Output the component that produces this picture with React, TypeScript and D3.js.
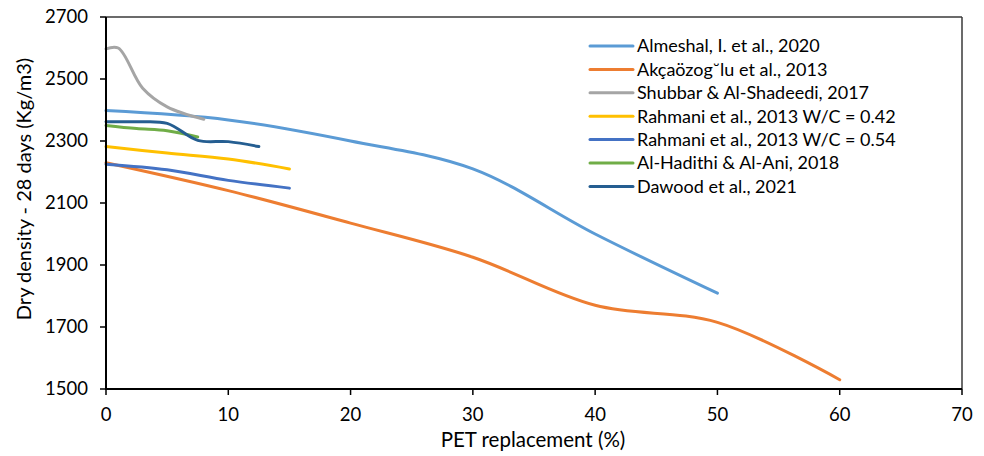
import React from "react";
import * as d3 from "d3";

const seriesNames = [
  "Almeshal, I. et al., 2020",
  "Akçaözog˘lu et al., 2013",
  "Shubbar & Al-Shadeedi, 2017",
  "Rahmani et al., 2013 W/C = 0.42",
  "Rahmani et al., 2013 W/C = 0.54",
  "Al-Hadithi & Al-Ani, 2018",
  "Dawood et al., 2021",
];
const seriesColors = ["#5B9BD5", "#ED7D31", "#A5A5A5", "#FFC000", "#4472C4", "#70AD47", "#255E91"];

const almeshalX = [0, 10, 20, 30, 40, 50];
const almeshalY = [2398, 2368, 2300, 2210, 2000, 1809];
const akcaX = [0, 10, 20, 30, 40, 50, 60];
const akcaY = [2230, 2140, 2035, 1925, 1770, 1715, 1530];
const shubbarX = [0, 1, 3, 5, 8];
const shubbarY = [2597, 2600, 2470, 2410, 2370];
const rahmani42X = [0, 5, 10, 15];
const rahmani42Y = [2282, 2261, 2242, 2210];
const rahmani54X = [0, 5, 10, 15];
const rahmani54Y = [2225, 2207, 2173, 2148];
const hadithiX = [0, 2.5, 5, 7.5];
const hadithiY = [2350, 2340, 2333, 2313];
const dawoodX = [0, 2.5, 5, 7.5, 10, 12.5];
const dawoodY = [2362, 2362, 2357, 2302, 2298, 2282];

const xTicks = [0, 10, 20, 30, 40, 50, 60, 70];
const yTicks = [1500, 1700, 1900, 2100, 2300, 2500, 2700];

const allX = [almeshalX, akcaX, shubbarX, rahmani42X, rahmani54X, hadithiX, dawoodX];
const allY = [almeshalY, akcaY, shubbarY, rahmani42Y, rahmani54Y, hadithiY, dawoodY];

const FONT = "Lato, 'Open Sans', sans-serif";

export default function App() {
  const x = d3.scaleLinear().domain([0, 70]).range([106, 962]);
  const y = d3.scaleLinear().domain([1500, 2700]).range([389, 17]);
  const line = d3
    .line<[number, number]>()
    .x((d) => x(d[0]))
    .y((d) => y(d[1]))
    .curve(d3.curveCatmullRom.alpha(0.5));

  const legendX1 = 590;
  const legendX2 = 633;
  const legendY0 = 46;
  const legendStep = 23.4;

  return (
    <svg
      width={984}
      height={456}
      style={{ position: "absolute", left: 0, top: 0, display: "block", background: "#fff" }}
    >
      <rect x={0} y={0} width={984} height={456} fill="#fff" />
      {/* plot border top/right */}
      <line x1={x(0)} x2={x(70)} y1={y(2700)} y2={y(2700)} stroke="#3a3a3a" strokeWidth={1.5} />
      <line x1={x(70)} x2={x(70)} y1={y(2700)} y2={y(1500)} stroke="#3a3a3a" strokeWidth={1.5} />
      {/* series */}
      {allX.map((xs, i) => {
        const pts: [number, number][] = xs.map((v, j) => [v, allY[i][j]]);
        return (
          <path
            key={i}
            d={line(pts) || ""}
            fill="none"
            stroke={seriesColors[i]}
            strokeWidth={3}
            strokeLinecap="round"
          />
        );
      })}
      {/* axes */}
      <line x1={x(0)} x2={x(0)} y1={y(2700)} y2={y(1500) + 1} stroke="#000" strokeWidth={2} />
      <line x1={x(0) - 1} x2={x(70)} y1={y(1500)} y2={y(1500)} stroke="#000" strokeWidth={2} />
      {yTicks.map((t) => (
        <g key={"y" + t}>
          <line x1={x(0) - 6} x2={x(0)} y1={y(t)} y2={y(t)} stroke="#000" strokeWidth={1.5} />
          <text
            x={88}
            y={y(t)}
            dy="0.35em"
            textAnchor="end"
            fontFamily={FONT}
            fontSize={18.5}
            fill="#000"
          >
            {t}
          </text>
        </g>
      ))}
      {xTicks.map((t) => (
        <g key={"x" + t}>
          <line x1={x(t)} x2={x(t)} y1={y(1500)} y2={y(1500) + 6} stroke="#000" strokeWidth={1.5} />
          <text x={x(t)} y={421} textAnchor="middle" fontFamily={FONT} fontSize={18.5} fill="#000">
            {t}
          </text>
        </g>
      ))}
      <text x={533} y={447} textAnchor="middle" fontFamily={FONT} fontSize={20.5} fill="#000">
        PET replacement (%)
      </text>
      <text
        transform={`translate(31, 189) rotate(-90)`}
        textAnchor="middle"
        fontFamily={FONT}
        fontSize={20}
        fill="#000"
      >
        Dry density - 28 days (Kg/m3)
      </text>
      {/* legend */}
      {seriesNames.map((n, i) => (
        <g key={"l" + i}>
          <line
            x1={legendX1}
            x2={legendX2}
            y1={legendY0 + i * legendStep}
            y2={legendY0 + i * legendStep}
            stroke={seriesColors[i]}
            strokeWidth={3}
            strokeLinecap="round"
          />
          <text
            x={637}
            y={legendY0 + i * legendStep}
            dy="0.36em"
            fontFamily={FONT}
            fontSize={18}
            fill="#000"
          >
            {n}
          </text>
        </g>
      ))}
    </svg>
  );
}
